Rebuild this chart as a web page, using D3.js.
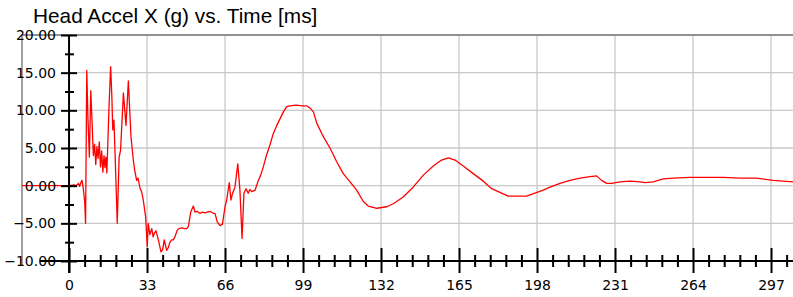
<!DOCTYPE html>
<html>
<head>
<meta charset="utf-8">
<script src="https://cdn.jsdelivr.net/npm/d3@7"></script>
<style>
  body { margin: 0; background: #fff; }
  svg { display: block; }
</style>
</head>
<body>
<script>
// data
const timeMs = [-20, -10, 0, 2, 3, 4, 4.5, 5, 5.5, 6, 6.6, 7.0, 7.5, 8.0, 8.6, 9.2, 9.8, 10.3, 10.8, 11.3,
  11.8, 12.3, 12.8, 13.3, 13.8, 14.3, 14.8, 15.2, 15.6, 16.0, 16.9, 17.6, 18.1, 18.5, 19.0, 19.5, 20.4, 21.2,
  21.8, 23.0, 24.1, 25.1, 26.2, 27.2, 27.8, 28.6, 29.2, 30.0, 30.7, 31.4, 32.4, 33.1, 33.5, 34.2, 35.0, 35.6,
  36.1, 36.8, 37.8, 38.9, 39.6, 40.3, 41.3, 42.0, 42.7, 43.4, 44.1, 44.8, 45.8, 46.5, 47.7, 49.0, 49.8, 50.5,
  51.5, 52.6, 53.3, 54.2, 55.4, 56.5, 57.5, 58.5, 59.6, 60.7, 61.8, 62.7, 63.9, 64.9, 66.0, 66.7, 67.8, 68.5,
  69.2, 70.2, 71.4, 72.3, 73.2, 74.0, 74.9, 75.8, 76.5, 77.3, 78.7, 80.1, 81.1, 82.2, 83.6, 85.0, 86.4, 87.9,
  89.3, 90.7, 92.1, 93.5, 96, 99, 100.5, 102, 103.4, 104.8, 107.6, 110.4, 113.2, 116, 118.9, 121.7, 124.5,
  126.6, 130.2, 134.4, 137.2, 141.4, 145.6, 149.9, 154.1, 157.6, 160.5, 163.3, 166.8, 171, 175.3, 178.8,
  182.3, 185.8, 189.4, 193.6, 197.1, 200.6, 203.5, 207.7, 211.9, 216.2, 220.4, 223.2, 225.3, 227.5, 229.6,
  233.1, 237.3, 241.5, 243.7, 247.2, 251.4, 255.6, 262.7, 269.7, 276.8, 283.8, 290.9, 297.9, 306.3];

const accelG = [0, 0, 0, 0.1, 0, 0.3, -0.1, 0.4, 0.7, -0.3, -2, -5, 15.3, 9, 3.8, 12.6, 8, 4, 5.5, 2.8,
  5.2, 3.6, 5.8, 2.5, 4.6, 1.8, 4.0, 2.4, 3.8, 1.7, 10.3, 15.8, 12, 7.4, 8.7, 4, -5, 3.8,
  4.7, 12.3, 8.0, 13.9, 6.5, 3.4, 2.0, 0.7, 1.0, -0.3, -0.8, -1.9, -4.1, -8.1, -5, -6.5, -5.7, -6.8,
  -6.3, -6.0, -7.2, -8.8, -8.5, -7.2, -8.6, -8.2, -7.5, -7.2, -7.2, -6.8, -5.9, -5.7, -5.6, -5.7, -5.7, -5.4,
  -3.5, -2.7, -3.5, -3.4, -3.7, -3.5, -3.6, -3.5, -3.4, -3.6, -3.7, -4.8, -5.3, -5.1, -2.8, -1.9, 0.4, -1.9,
  -1.0, -0.2, 2.9, -0.6, -7.0, -1.0, -0.4, -1.0, -0.5, -0.8, -0.6, 0.7, 1.4, 2.5, 4.1, 5.4, 6.9, 8.0,
  8.9, 9.8, 10.5, 10.6, 10.7, 10.6, 10.6, 10.3, 9.8, 8.3, 6.5, 5.0, 3.2, 1.6, 0.5, -0.6, -2.1,
  -2.7, -3.0, -2.8, -2.4, -1.5, -0.2, 1.4, 2.6, 3.4, 3.7, 3.4, 2.6, 1.6, 0.6, -0.4,
  -0.9, -1.4, -1.4, -1.4, -1.0, -0.6, -0.2, 0.3, 0.7, 1.0, 1.2, 1.3, 0.7, 0.3, 0.3,
  0.5, 0.6, 0.5, 0.4, 0.5, 0.9, 1.0, 1.1, 1.1, 1.1, 1.0, 1.0, 0.7, 0.5];

const xTicks = [0, 33, 66, 99, 132, 165, 198, 231, 264, 297];
const yTicks = [-10, -5, 0, 5, 10, 15, 20];
const titleText = "Head Accel X (g) vs. Time [ms]";

const width = 793;
const height = 297;

const svg = d3.select('body').append('svg').attr('width', width).attr('height', height);

// plot frame goes from x=22 (t = -20 ms) to the right edge
const x = d3.scaleLinear().domain([-19.9, 306.3]).range([22, 793]);
const y = d3.scaleLinear().domain([-10, 20]).range([261, 35]);

const xMinor = d3.range(0, 306, 6.6).filter(t => xTicks.indexOf(Math.round(t)) < 0 || Math.abs(t - Math.round(t)) > 0.01);
const yMinor = d3.range(-7.5, 20, 5);

// grid
svg.append('g').selectAll('line').data(yTicks.slice(1, -1)).enter().append('line')
  .attr('x1', x(0)).attr('x2', width).attr('y1', d => y(d)).attr('y2', d => y(d))
  .attr('stroke', '#c8c8c8').attr('stroke-width', 1.3);
svg.append('g').selectAll('line').data(xTicks.slice(1)).enter().append('line')
  .attr('x1', d => x(d)).attr('x2', d => x(d)).attr('y1', y(20)).attr('y2', y(-10))
  .attr('stroke', '#c8c8c8').attr('stroke-width', 1.3);

// frame lines (top and left)
svg.append('line').attr('x1', 22).attr('x2', width).attr('y1', y(20)).attr('y2', y(20))
  .attr('stroke', '#6e6e6e').attr('stroke-width', 1.3);
svg.append('line').attr('x1', 22).attr('x2', 22).attr('y1', y(20)).attr('y2', 266)
  .attr('stroke', '#6e6e6e').attr('stroke-width', 1.3);

// the curve
const line = d3.line().x((d, i) => x(timeMs[i])).y(d => y(d));
svg.append('path').datum(accelG).attr('d', line)
  .attr('fill', 'none').attr('stroke', '#ff0000').attr('stroke-width', 1.3).attr('stroke-linejoin', 'round');

// x axis : major ticks with labels, minor ticks crossing the line
const xAxisG = svg.append('g').attr('transform', `translate(0,${y(-10)})`);
xAxisG.append('line').attr('x1', 40).attr('x2', width).attr('y1', 0).attr('y2', 0)
  .attr('stroke', '#000').attr('stroke-width', 2);
const xMajor = xAxisG.append('g').call(d3.axisBottom(x).tickValues(xTicks).tickSize(12).tickFormat(d3.format('d')));
xMajor.select('.domain').remove();
xMajor.selectAll('.tick line').attr('y1', -13).attr('stroke-width', 2);
xMajor.selectAll('.tick text').attr('y', 19).attr('dy', '0.71em')
  .style('font-family', '"DejaVu Sans", Verdana, sans-serif').style('font-size', '14px').attr('fill', '#000');
const xMin = xAxisG.append('g').call(d3.axisBottom(x).tickValues(xMinor).tickSize(6).tickFormat(''));
xMin.select('.domain').remove();
xMin.selectAll('.tick line').attr('y1', -6).attr('stroke-width', 2);

// y axis at t = 0
const yAxisG = svg.append('g').attr('transform', `translate(${x(0)},0)`);
yAxisG.append('line').attr('x1', 0).attr('x2', 0).attr('y1', y(20)).attr('y2', 273)
  .attr('stroke', '#000').attr('stroke-width', 2);
const yMajor = yAxisG.append('g').call(d3.axisLeft(y).tickValues(yTicks).tickSize(8).tickFormat(d3.format('.2f')));
yMajor.select('.domain').remove();
yMajor.selectAll('.tick line').attr('x2', 8).attr('x1', -8).attr('stroke-width', 2);
yMajor.selectAll('.tick text').attr('x', -13)
  .style('font-family', '"DejaVu Sans", Verdana, sans-serif').style('font-size', '14px').attr('fill', '#000');
const yMin = yAxisG.append('g').call(d3.axisLeft(y).tickValues(yMinor).tickSize(5).tickFormat(''));
yMin.select('.domain').remove();
yMin.selectAll('.tick line').attr('x1', -4).attr('x2', 5).attr('stroke-width', 2);

// title
svg.append('text').attr('x', 33).attr('y', 23).text(titleText)
  .style('font-family', '"Liberation Sans", Arial, sans-serif').style('font-size', '20.8px').attr('fill', '#000');
</script>
</body>
</html>
